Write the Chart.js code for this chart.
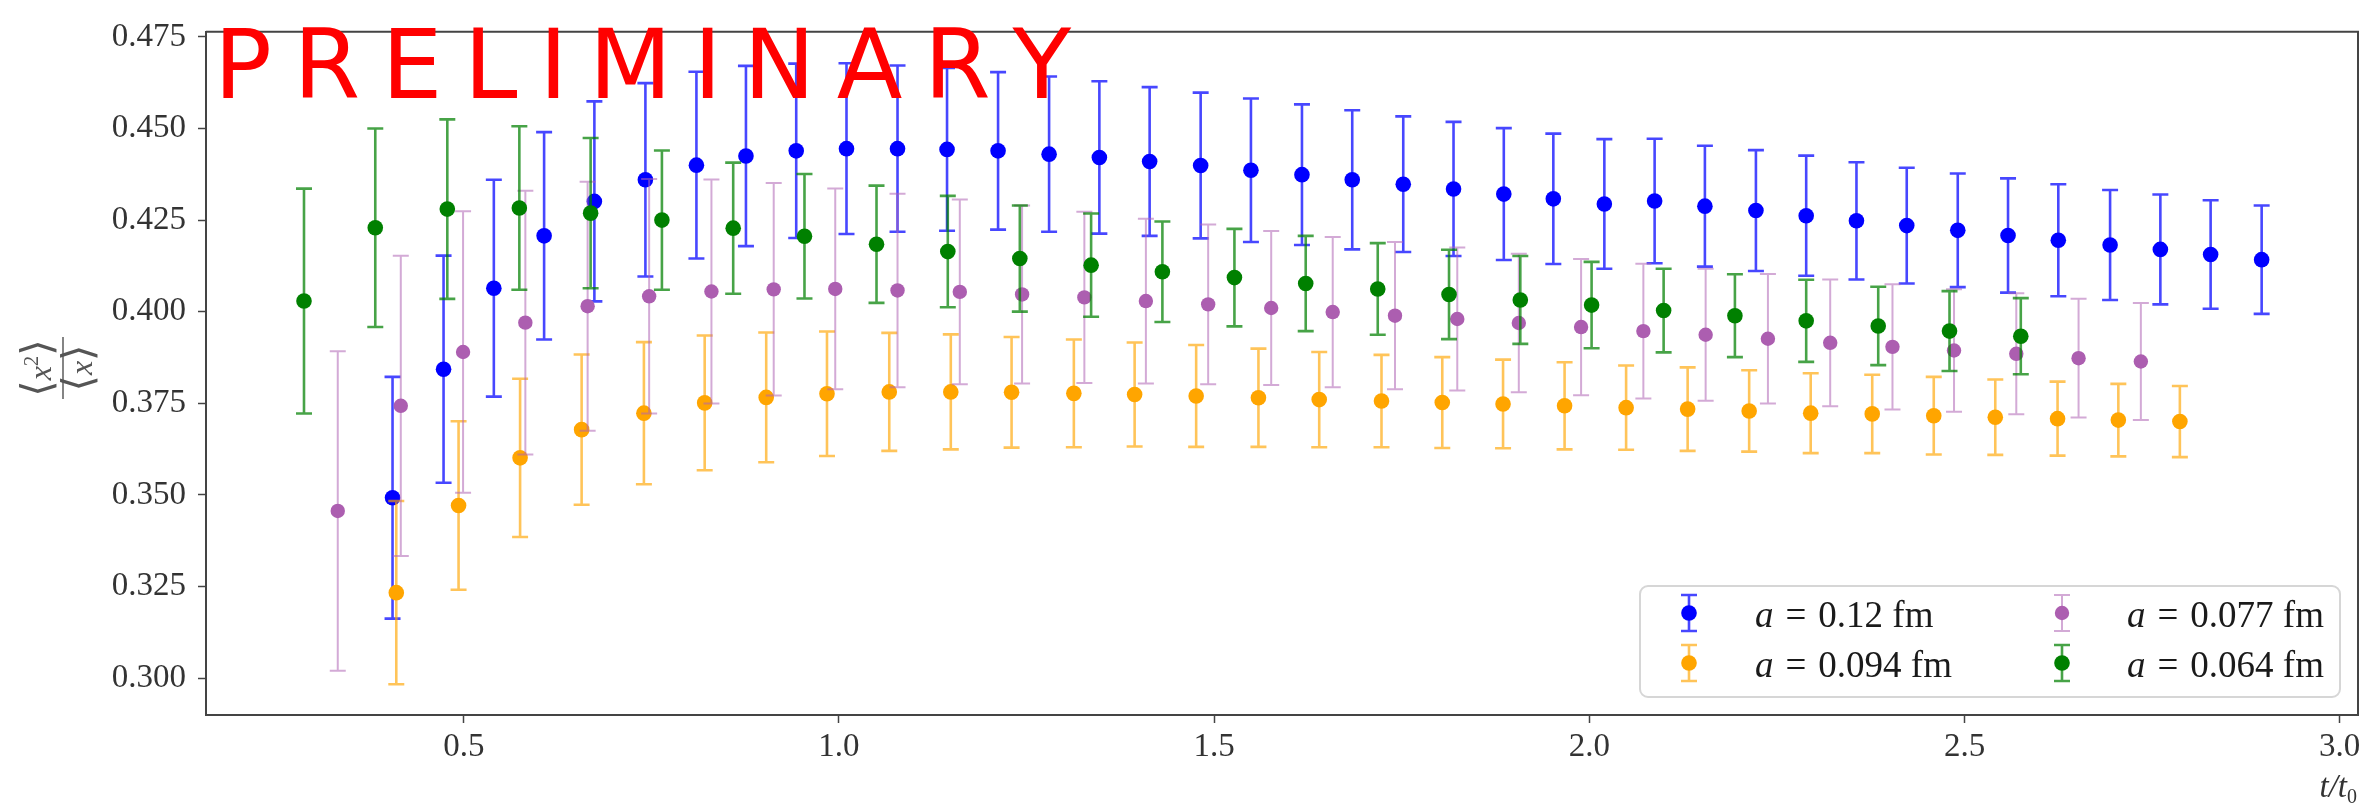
<!DOCTYPE html>
<html><head><meta charset="utf-8">
<script src="https://cdn.jsdelivr.net/npm/chart.js@4/dist/chart.umd.min.js"></script>
<style>html,body{margin:0;padding:0;background:#fff;overflow:hidden}#wrap{width:2366px;height:810px}</style>
</head><body><div id="wrap"><canvas id="c" width="2366" height="810"></canvas></div>
<script>
// ---- data ----
const xTicks = [0.5, 1.0, 1.5, 2.0, 2.5, 3.0];
const yTicks = [0.300, 0.325, 0.350, 0.375, 0.400, 0.425, 0.450, 0.475];
const seriesLabels = ['0.12', '0.094', '0.077', '0.064'];

const blueX = [0.405,0.473,0.540,0.607,0.674,0.742,0.810,0.876,0.943,1.010,1.078,1.144,1.212,1.280,1.347,1.414,1.482,1.549,1.617,1.684,1.752,1.819,1.886,1.952,2.020,2.087,2.154,2.222,2.289,2.356,2.423,2.491,2.558,2.625,2.694,2.761,2.828,2.896];
const blueY = [0.3492,0.3843,0.4064,0.4207,0.4301,0.4360,0.4400,0.4425,0.4439,0.4445,0.4445,0.4443,0.4439,0.4430,0.4421,0.4410,0.4399,0.4386,0.4374,0.4360,0.4348,0.4335,0.4321,0.4308,0.4294,0.4302,0.4288,0.4276,0.4262,0.4248,0.4235,0.4222,0.4208,0.4195,0.4182,0.4170,0.4156,0.4142];
const blueErr = [0.033,0.031,0.0296,0.0283,0.0273,0.0264,0.0255,0.0246,0.0238,0.0233,0.0227,0.0222,0.0215,0.0212,0.0208,0.0203,0.0199,0.0196,0.0192,0.019,0.0185,0.0183,0.018,0.0178,0.0177,0.017,0.0165,0.0165,0.0164,0.016,0.0158,0.0155,0.0156,0.0153,0.015,0.015,0.0148,0.0148];

const orangeX = [0.410,0.493,0.575,0.657,0.740,0.821,0.903,0.984,1.067,1.149,1.230,1.313,1.394,1.476,1.559,1.640,1.723,1.804,1.885,1.967,2.049,2.131,2.213,2.295,2.377,2.459,2.541,2.624,2.705,2.787];
const orangeY = [0.3233,0.3471,0.3601,0.3678,0.3723,0.3751,0.3766,0.3776,0.3781,0.3781,0.3780,0.3777,0.3774,0.3770,0.3765,0.3760,0.3756,0.3752,0.3748,0.3743,0.3738,0.3734,0.3729,0.3723,0.3721,0.3716,0.3712,0.3708,0.3704,0.3700];
const orangeErr = [0.025,0.023,0.0216,0.0205,0.0194,0.0184,0.0177,0.017,0.0161,0.0157,0.0151,0.0147,0.0142,0.0139,0.0134,0.013,0.0126,0.0124,0.0121,0.0119,0.0115,0.0114,0.0111,0.0109,0.0107,0.0106,0.0103,0.0101,0.0099,0.0097];

const purpleX = [0.332,0.416,0.499,0.582,0.665,0.747,0.830,0.913,0.995,1.078,1.161,1.244,1.327,1.409,1.492,1.576,1.658,1.741,1.824,1.906,1.989,2.072,2.155,2.238,2.321,2.404,2.486,2.569,2.652,2.735];
const purpleY = [0.3456,0.3743,0.3890,0.3970,0.4015,0.4042,0.4055,0.4061,0.4062,0.4058,0.4054,0.4047,0.4039,0.4029,0.4020,0.4010,0.3999,0.3989,0.3980,0.3969,0.3958,0.3947,0.3937,0.3926,0.3915,0.3904,0.3894,0.3885,0.3873,0.3864];
const purpleErr = [0.0436,0.041,0.0384,0.036,0.034,0.032,0.0306,0.029,0.0274,0.0264,0.0252,0.0243,0.0234,0.0225,0.0218,0.021,0.0205,0.0201,0.0195,0.0189,0.0186,0.0184,0.018,0.0177,0.0173,0.0171,0.0167,0.0165,0.0162,0.016];

const greenX = [0.287,0.382,0.478,0.574,0.669,0.764,0.859,0.954,1.050,1.145,1.241,1.336,1.431,1.527,1.622,1.718,1.813,1.908,2.003,2.099,2.194,2.289,2.385,2.480,2.575];
const greenY = [0.4029,0.4229,0.4280,0.4283,0.4269,0.4250,0.4228,0.4206,0.4184,0.4164,0.4145,0.4127,0.4109,0.4093,0.4077,0.4062,0.4047,0.4032,0.4018,0.4003,0.3989,0.3975,0.3961,0.3947,0.3933];
const greenErr = [0.0307,0.0271,0.0245,0.0223,0.0205,0.019,0.0179,0.017,0.016,0.0152,0.0145,0.0141,0.0137,0.0133,0.013,0.0125,0.0122,0.012,0.0118,0.0114,0.0113,0.0112,0.0107,0.0109,0.0104];

// ---- styles ----
const styles = [
  {marker: '#0000ff', bar: 'rgba(0,0,255,0.72)', lw: 2.6, r: 7.8},
  {marker: '#ffa500', bar: 'rgba(255,165,0,0.65)', lw: 2.6, r: 7.8},
  {marker: '#ac5eb0', bar: 'rgba(175,100,180,0.55)', lw: 2.0, r: 7.2},
  {marker: '#008000', bar: 'rgba(0,128,0,0.72)', lw: 2.6, r: 7.8}
];
const CAP = 8;
const SERIF = '"Liberation Serif", "DejaVu Serif", serif';

function pts(X, Y, E) { return X.map((x, i) => ({x: x, y: Y[i], e: E[i]})); }
const seriesData = [pts(blueX, blueY, blueErr), pts(orangeX, orangeY, orangeErr), pts(purpleX, purpleY, purpleErr), pts(greenX, greenY, greenErr)];

const datasets = seriesData.map((d, k) => ({
  label: 'a = ' + seriesLabels[k] + ' fm',
  data: d,
  order: 4 - k,
  pointRadius: styles[k].r,
  pointHoverRadius: styles[k].r,
  pointBackgroundColor: styles[k].marker,
  pointBorderWidth: 0,
  showLine: false,
  errStyle: k
}));

function drawErr(ctx, px, top, bot, st) {
  ctx.save();
  ctx.strokeStyle = st.bar; ctx.lineWidth = st.lw; ctx.lineCap = 'butt';
  ctx.beginPath();
  ctx.moveTo(px, top); ctx.lineTo(px, bot);
  ctx.moveTo(px - CAP, top); ctx.lineTo(px + CAP, top);
  ctx.moveTo(px - CAP, bot); ctx.lineTo(px + CAP, bot);
  ctx.stroke();
  ctx.restore();
}

const errorBars = {
  id: 'errorBars',
  beforeDatasetDraw(chart, args) {
    const ds = chart.data.datasets[args.index];
    const st = styles[ds.errStyle];
    const xs = chart.scales.x, ys = chart.scales.y, ctx = chart.ctx;
    ds.data.forEach(p => {
      const px = xs.getPixelForValue(p.x);
      drawErr(ctx, px, ys.getPixelForValue(p.y + p.e), ys.getPixelForValue(p.y - p.e), st);
    });
  }
};

const decor = {
  id: 'decor',
  afterDraw(chart) {
    const ctx = chart.ctx, a = chart.chartArea;
    // frame top/right
    ctx.save();
    ctx.strokeStyle = '#444'; ctx.lineWidth = 2;
    ctx.beginPath();
    ctx.moveTo(a.left, a.top); ctx.lineTo(a.right, a.top); ctx.lineTo(a.right, a.bottom);
    ctx.stroke();
    ctx.restore();

    // PRELIMINARY
    ctx.save();
    ctx.fillStyle = '#ff0000';
    ctx.font = '96px "DejaVu Sans", sans-serif';
    ctx.textBaseline = 'alphabetic';
    let x = a.left + 8;
    const word = 'PRELIMINARY';
    for (const ch of word) { ctx.fillText(ch, x, 98); x += ctx.measureText(ch).width + 21.6; }
    ctx.restore();

    // legend
    const L = 1640, T = 586, R = 2340, B = 697;
    ctx.save();
    ctx.beginPath();
    ctx.roundRect(L, T, R - L, B - T, 8);
    ctx.fillStyle = 'rgba(255,255,255,0.85)'; ctx.fill();
    ctx.strokeStyle = '#d6d6d6'; ctx.lineWidth = 2; ctx.stroke();
    const cols = [[1689, 1755], [2062, 2127]];
    const rows = [613, 663];
    const place = [[0, 0], [1, 0], [0, 1], [1, 1]]; // [row, col]
    for (let k = 0; k < 4; k++) {
      const [ri, ci] = place[k];
      const mx = cols[ci][0], my = rows[ri], st = styles[k];
      const cap = 18;
      ctx.save();
      ctx.strokeStyle = st.bar; ctx.lineWidth = st.lw;
      ctx.beginPath();
      ctx.moveTo(mx, my - cap); ctx.lineTo(mx, my + cap);
      ctx.moveTo(mx - CAP, my - cap); ctx.lineTo(mx + CAP, my - cap);
      ctx.moveTo(mx - CAP, my + cap); ctx.lineTo(mx + CAP, my + cap);
      ctx.stroke();
      ctx.fillStyle = st.marker;
      ctx.beginPath(); ctx.arc(mx, my, st.r, 0, Math.PI * 2); ctx.fill();
      ctx.restore();
      const tx = cols[ci][1], ty = my + 14;
      ctx.fillStyle = '#1a1a1a';
      ctx.font = 'italic 37px ' + SERIF;
      ctx.fillText('a', tx, ty);
      let w = ctx.measureText('a').width;
      ctx.font = '37px ' + SERIF;
      ctx.fillText('=', tx + w + 12, ty);
      const we = ctx.measureText('=').width;
      ctx.fillText(seriesLabels[k] + ' fm', tx + w + 12 + we + 12, ty);
    }
    ctx.restore();

    // x axis label t/t0
    ctx.save();
    ctx.fillStyle = '#333';
    ctx.textBaseline = 'alphabetic';
    ctx.font = '20px ' + SERIF;
    const w0 = ctx.measureText('0').width;
    ctx.fillText('0', 2357 - w0, 803);
    ctx.font = 'italic 33px ' + SERIF;
    const txt = 't/t';
    const wt = ctx.measureText(txt).width;
    ctx.fillText(txt, 2357 - w0 - wt, 797);
    ctx.restore();

    // y axis label <x^2>/<x>
    ctx.save();
    ctx.translate(63, 368);
    ctx.rotate(-Math.PI / 2);
    ctx.fillStyle = '#555'; ctx.strokeStyle = '#666'; ctx.lineWidth = 1.6;
    ctx.beginPath(); ctx.moveTo(-31, 0); ctx.lineTo(31, 0); ctx.stroke();
    ctx.textBaseline = 'alphabetic';
    const bf = '42px "DejaVu Serif", serif';
    const xf = 'italic 32px ' + SERIF;
    const sf = '21px ' + SERIF;
    function piece(parts, baseline) {
      let total = 0;
      parts.forEach(p => { ctx.font = p.f; p.w = ctx.measureText(p.t).width; total += p.w; });
      let xx = -total / 2;
      parts.forEach(p => { ctx.font = p.f; ctx.fillText(p.t, xx, baseline + (p.dy || 0)); xx += p.w; });
    }
    piece([{t: '\u27E8', f: bf}, {t: 'x', f: xf}, {t: '2', f: sf, dy: -13}, {t: '\u27E9', f: bf}], -12);
    piece([{t: '\u27E8', f: bf}, {t: 'x', f: xf}, {t: '\u27E9', f: bf}], 29);
    ctx.restore();
  }
};

new Chart(document.getElementById('c'), {
  type: 'scatter',
  data: {datasets: datasets},
  options: {
    responsive: false,
    devicePixelRatio: 1,
    animation: false,
    events: [],
    layout: {padding: {left: 0, right: 8, top: 17, bottom: 0}},
    plugins: {legend: {display: false}, tooltip: {enabled: false}},
    scales: {
      x: {
        type: 'linear', position: 'bottom', min: 0.1564, max: 3.0244,
        afterFit(s) { s.height = 95; },
        afterBuildTicks(s) { s.ticks = xTicks.map(v => ({value: v})); },
        ticks: {font: {family: SERIF, size: 33}, color: '#333', padding: 5, maxRotation: 0, autoSkip: false,
          callback: v => Number(v).toFixed(1)},
        grid: {drawOnChartArea: false, drawTicks: true, tickLength: 8, tickColor: '#444', tickWidth: 1.5},
        border: {display: true, color: '#444', width: 2}
      },
      y: {
        type: 'linear', position: 'left', min: 0.2899, max: 0.4764,
        afterFit(s) { s.width = 206; },
        afterBuildTicks(s) { s.ticks = yTicks.map(v => ({value: v})); },
        ticks: {font: {family: SERIF, size: 33}, color: '#333', padding: 12, autoSkip: false,
          callback: v => Number(v).toFixed(3)},
        grid: {drawOnChartArea: false, drawTicks: true, tickLength: 8, tickColor: '#444', tickWidth: 1.5},
        border: {display: true, color: '#444', width: 2}
      }
    }
  },
  plugins: [errorBars, decor]
});
</script>
</body></html>
